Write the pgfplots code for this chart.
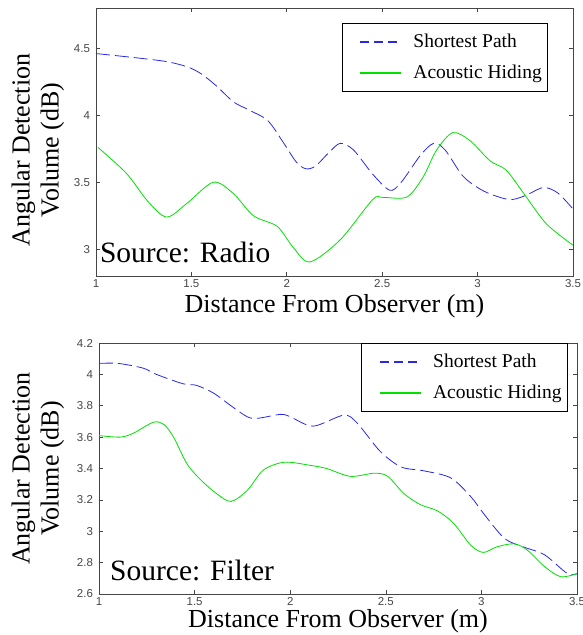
\documentclass[border=0pt]{standalone}
\usepackage{fontspec}
\setmainfont{Liberation Serif}
\newfontfamily\tickfont{Liberation Sans}
\usepackage{pgfplots}
\pgfplotsset{compat=1.18}

\definecolor{spblue}{RGB}{40,40,230}
\definecolor{ahgreen}{RGB}{0,225,0}
\definecolor{axgray}{RGB}{70,70,70}

\pgfplotsset{
  mlab/.style={
    scale only axis,
    xmin=1, xmax=3.5,
    xtick={1,1.5,2,2.5,3,3.5},
    axis line style={axgray, line width=0.8pt},
    tick style={axgray, line width=0.6pt},
    major tick length=4pt,
    tick align=inside, tick pos=both,
    ticklabel style={font=\tickfont\fontsize{11.5}{13}\selectfont, text=axgray},
    /pgf/number format/assume math mode=true,
    yticklabel style={xshift=-2.5pt},
    label style={font=\fontsize{26}{29}\selectfont},
    xlabel={Distance From Observer (m)},
    ylabel={Angular Detection\\Volume (dB)},
    ylabel style={align=center, anchor=center},
    legend cell align=left,
    legend style={draw=black, line width=0.8pt,
      font=\fontsize{19.5}{23}\selectfont,
      inner xsep=4pt, inner ysep=9pt,
      row sep=12pt,
      nodes={inner sep=2pt},
      /tikz/every odd column/.append style={column sep=9pt}},
  },
  sp/.style={spblue, line width=0.8pt, smooth, tension=0.5,
    dash pattern=on 14pt off 5pt,
    legend image code/.code={\path (0pt,0pt);
      \draw[spblue, line width=2pt, dash pattern=on 9pt off 5pt] (14pt,0pt) -- (55pt,0pt);}},
  ah/.style={ahgreen, line width=0.8pt, smooth, tension=0.5,
    legend image code/.code={\path (0pt,0pt);
      \draw[ahgreen, line width=2pt, solid] (14pt,0pt) -- (55pt,0pt);}},
}

\begin{document}
\begin{tikzpicture}
\useasboundingbox (0pt,0pt) rectangle (583pt,635pt);

% Source: Radio
\begin{axis}[mlab,
    at={(96pt,359pt)}, anchor=south west,
    width=477pt, height=268pt,
    ymin=2.8, ymax=4.8,
    ytick={3,3.5,4,4.5},
    ylabel style={at={(axis description cs:-0.122,0.47)}},
    xlabel style={at={(axis description cs:0.5,0)}, anchor=base, yshift=-37pt},
    legend style={at={(axis description cs:0.948,0.944)}, anchor=north east},
  ]
  \addplot[sp] coordinates {
    (1,4.46) (1.2,4.43) (1.37,4.40) (1.48,4.36) (1.55,4.31) (1.63,4.22)
    (1.72,4.10) (1.8,4.04) (1.9,3.96) (1.98,3.80) (2.05,3.65) (2.1,3.60)
    (2.15,3.62) (2.22,3.72) (2.28,3.79) (2.35,3.74) (2.45,3.56) (2.54,3.44)
    (2.6,3.50) (2.7,3.70) (2.77,3.79) (2.83,3.74) (2.92,3.55) (3.0,3.46)
    (3.07,3.41) (3.17,3.37) (3.25,3.40) (3.345,3.46) (3.42,3.42) (3.5,3.30)};
  \addlegendentry{Shortest Path}
  \addplot[ah] coordinates {
    (1.01,3.76) (1.16,3.565) (1.27,3.36) (1.37,3.24) (1.475,3.34) (1.615,3.50)
    (1.72,3.415) (1.825,3.25) (1.95,3.17) (2.03,3.02) (2.12,2.905) (2.28,3.07)
    (2.45,3.37) (2.505,3.386) (2.63,3.39) (2.715,3.54) (2.785,3.74) (2.87,3.87)
    (2.96,3.81) (3.065,3.66) (3.15,3.59) (3.24,3.42) (3.36,3.19) (3.5,3.03)};
  \addlegendentry{Acoustic Hiding}
  \node[anchor=base west, font=\fontsize{29.5}{32}\selectfont, inner sep=0pt]
    at (axis description cs:0.008,0.052) {Source: Radio};
\end{axis}

% Source: Filter
\begin{axis}[mlab,
    at={(99pt,41pt)}, anchor=south west,
    width=478pt, height=251pt,
    ymin=2.6, ymax=4.2,
    ytick={2.6,2.8,3,3.2,3.4,3.6,3.8,4,4.2},
    ylabel style={at={(axis description cs:-0.128,0.5)}},
    xlabel style={at={(axis description cs:0.5,0)}, anchor=base, yshift=-34pt},
    legend style={at={(axis description cs:0.981,1.0)}, anchor=north east},
  ]
  \addplot[sp] coordinates {
    (1,4.07) (1.10,4.07) (1.23,4.04) (1.30,4.00) (1.44,3.94) (1.51,3.93)
    (1.60,3.88) (1.69,3.80) (1.775,3.73) (1.83,3.72) (1.95,3.745) (2.0,3.73)
    (2.12,3.67) (2.28,3.74) (2.35,3.69) (2.47,3.51) (2.58,3.41) (2.70,3.385)
    (2.84,3.34) (2.945,3.22) (3.01,3.115) (3.12,2.955) (3.22,2.90) (3.33,2.85)
    (3.45,2.73) (3.5,2.73)};
  \addlegendentry{Shortest Path}
  \addplot[ah] coordinates {
    (1,3.61) (1.11,3.60) (1.18,3.625) (1.285,3.695) (1.34,3.68) (1.39,3.60)
    (1.46,3.43) (1.53,3.33) (1.615,3.24) (1.69,3.19) (1.775,3.26) (1.86,3.39)
    (1.97,3.44) (2.105,3.42) (2.19,3.40) (2.315,3.35) (2.44,3.37) (2.51,3.35)
    (2.595,3.24) (2.68,3.17) (2.77,3.13) (2.855,3.05) (2.945,2.91) (3.01,2.865)
    (3.08,2.90) (3.17,2.92) (3.24,2.88) (3.33,2.775) (3.415,2.71) (3.5,2.73)};
  \addlegendentry{Acoustic Hiding}
  \node[anchor=base west, font=\fontsize{29.5}{32}\selectfont, inner sep=0pt]
    at (axis description cs:0.023,0.052) {Source: Filter};
\end{axis}
\end{tikzpicture}
\end{document}
